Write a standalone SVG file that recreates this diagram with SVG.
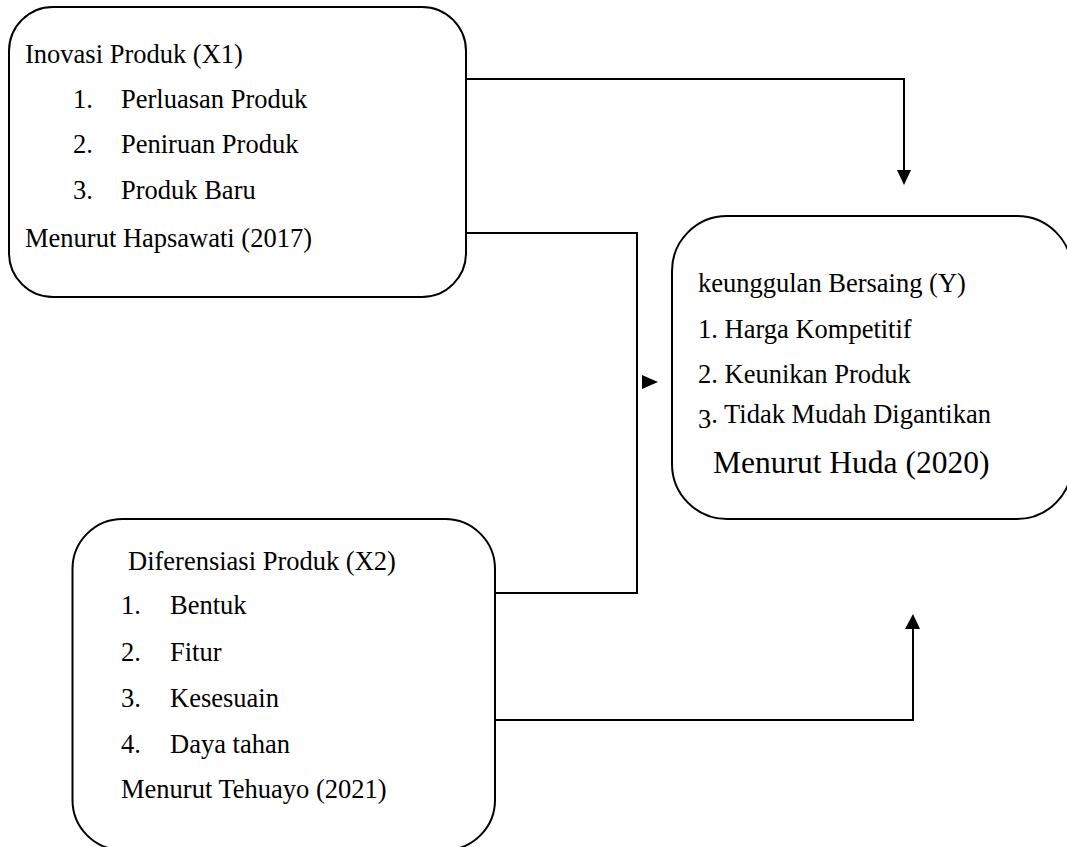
<svg xmlns="http://www.w3.org/2000/svg" width="1067" height="847" viewBox="0 0 1067 847">
<style>
.box{fill:#fff;stroke:#000;stroke-width:2}
.ln{fill:none;stroke:#000;stroke-width:2}
.ah{fill:#000;stroke:none}
text{font-family:"Liberation Serif","Times New Roman",serif;font-size:26.5px;fill:#000}
.big{font-size:31.5px}
</style>
<rect width="1067" height="847" fill="#fff"/>
<g id="connectors">
<polyline class="ln" points="466,79 904,79 904,172"/>
<polygon class="ah" points="897,170 911,170 904,185"/>
<polyline class="ln" points="466,233 637,233 637,593 495,593"/>
<polygon class="ah" points="642,375 642,389 658,382"/>
<polyline class="ln" points="495,720 913,720 913,627"/>
<polygon class="ah" points="905,629 920,629 913,614"/>
</g>
<g id="node-x1">
<rect class="box" x="9" y="7" width="457" height="290" rx="44" ry="44"/>
<text x="25" y="63">Inovasi Produk (X1)</text>
<text x="73" y="108">1.</text><text x="121" y="108">Perluasan Produk</text>
<text x="73" y="153">2.</text><text x="121" y="153">Peniruan Produk</text>
<text x="73" y="199">3.</text><text x="121" y="199">Produk Baru</text>
<text x="25" y="247">Menurut Hapsawati (2017)</text>
</g>
<g id="node-y">
<rect class="box" x="672" y="216" width="400" height="303" rx="55" ry="55"/>
<text x="698" y="292">keunggulan Bersaing (Y)</text>
<text x="698" y="338">1. Harga Kompetitif</text>
<text x="698" y="383">2. Keunikan Produk</text>
<text x="698" y="423"><tspan dy="5">3</tspan><tspan dy="-5">. Tidak Mudah Digantikan</tspan></text>
<text class="big" x="713" y="473">Menurut Huda (2020)</text>
</g>
<g id="node-x2">
<rect class="box" x="72.5" y="519" width="422.5" height="331" rx="50" ry="50"/>
<text x="128" y="570">Diferensiasi Produk (X2)</text>
<text x="121" y="614">1.</text><text x="170" y="614">Bentuk</text>
<text x="121" y="661">2.</text><text x="170" y="661">Fitur</text>
<text x="121" y="707">3.</text><text x="170" y="707">Kesesuain</text>
<text x="121" y="753">4.</text><text x="170" y="753">Daya tahan</text>
<text x="121" y="798">Menurut Tehuayo (2021)</text>
</g>
</svg>
